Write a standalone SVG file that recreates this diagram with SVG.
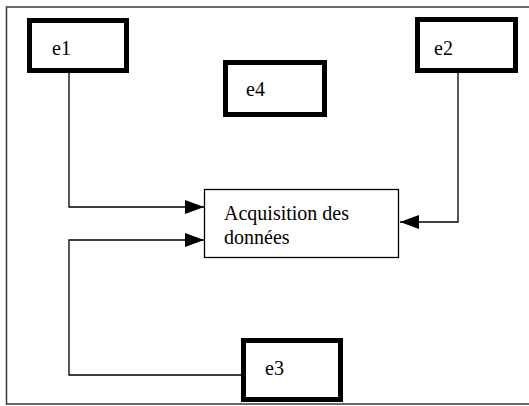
<svg xmlns="http://www.w3.org/2000/svg" width="529" height="406" viewBox="0 0 529 406">
  <style>
    .frame { fill: #ffffff; stroke: #3a3a3a; stroke-width: 1.5; }
    .source { fill: #ffffff; stroke: #000000; stroke-width: 5; }
    .process { fill: #ffffff; stroke: #000000; stroke-width: 1.3; }
    .wire { fill: none; stroke: #000000; stroke-width: 1.3; }
    .label { font-family: "Liberation Serif", "Times New Roman", serif; font-size: 20px; fill: #000000; }
  </style>
  <defs>
    <marker id="arrow" viewBox="0 0 19 14" refX="19" refY="7" markerWidth="19" markerHeight="14" markerUnits="userSpaceOnUse" orient="auto">
      <path d="M0,0 L19,7 L0,14 Z" fill="#000000"/>
    </marker>
  </defs>

  <!-- outer frame -->
  <rect class="frame" x="6.5" y="7" width="530" height="397"/>

  <!-- connectors -->
  <g id="connectors">
    <polyline class="wire" points="69,73 69,207 204,207" marker-end="url(#arrow)"/>
    <polyline class="wire" points="458,73 458,222 400,222" marker-end="url(#arrow)"/>
    <polyline class="wire" points="241,375 69,375 69,240 204,240" marker-end="url(#arrow)"/>
  </g>

  <g id="e1">
    <rect class="source" x="29.5" y="20.5" width="97" height="50"/>
    <text class="label" x="52" y="55">e1</text>
  </g>

  <g id="e2">
    <rect class="source" x="417.5" y="19.5" width="98" height="51"/>
    <text class="label" x="434" y="55">e2</text>
  </g>

  <g id="e4">
    <rect class="source" x="225.5" y="62.5" width="99" height="52"/>
    <text class="label" x="246" y="96">e4</text>
  </g>

  <g id="acquisition">
    <rect class="process" x="204.5" y="189.5" width="194" height="68"/>
    <text class="label" x="224" y="220">Acquisition des</text>
    <text class="label" x="224" y="244">données</text>
  </g>

  <g id="e3">
    <rect class="source" x="243.5" y="340.5" width="97" height="59"/>
    <text class="label" x="265" y="375">e3</text>
  </g>
</svg>
